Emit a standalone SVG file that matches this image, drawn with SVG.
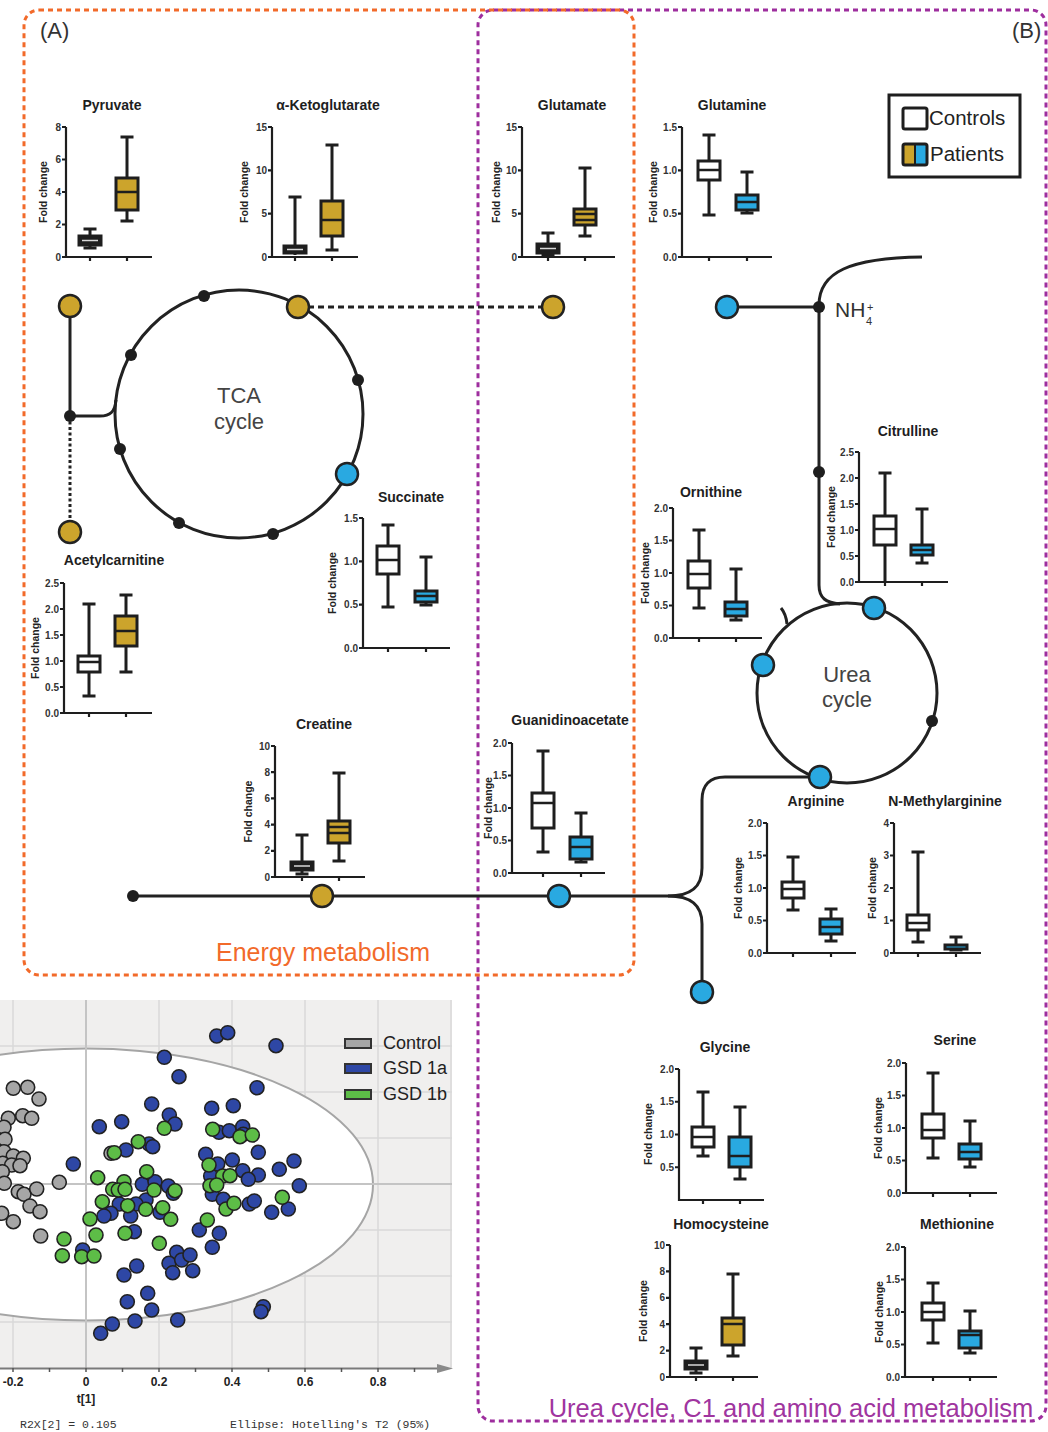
<svg xmlns="http://www.w3.org/2000/svg" width="1048" height="1432" viewBox="0 0 1048 1432">
<style>
  text { font-family: "Liberation Sans", Arial, sans-serif; }
  .ttl { font-size: 14px; font-weight: bold; text-anchor: middle; fill: #1e1e1e; }
  .yl { font-size: 10.5px; font-weight: bold; text-anchor: middle; fill: #222; }
  .tk text { font-size: 10px; font-weight: bold; text-anchor: end; fill: #333; }
  .ax { fill: none; stroke: #1e1e1e; stroke-width: 2.2; }
  .wh { fill: none; stroke: #1e1e1e; stroke-width: 3; }
  .bw { fill: #fff; stroke: #1e1e1e; stroke-width: 3; }
  .bd { fill: #1e1e1e; stroke: #1e1e1e; stroke-width: 3; }
  .bg { fill: #CCA42C; stroke: #1e1e1e; stroke-width: 3; }
  .bb { fill: #29A9E1; stroke: #1e1e1e; stroke-width: 3; }
  .md { stroke: #1e1e1e; stroke-width: 2.5; }
  .mw { stroke: #d8d8d8; stroke-width: 1.5; }
  .ln { fill: none; stroke: #222; stroke-width: 3; }
  .ng { fill: #CCA42C; stroke: #222; stroke-width: 2.5; }
  .nb { fill: #29A9E1; stroke: #222; stroke-width: 2.5; }
  .dot { fill: #1e1e1e; }
  .big { font-size: 22px; fill: #444; text-anchor: middle; }
  .sc circle { stroke: #222; stroke-width: 1.6; }
  .pg { fill: #A6A6A6; }
  .pb { fill: #2E47A5; }
  .pv { fill: #5DBD47; }
  .grid { stroke: #D9D9D9; stroke-width: 1.5; }
  .sxt { font-size: 12px; font-weight: bold; text-anchor: middle; fill: #222; }
  .mono { font-family: "Liberation Mono", "Courier New", monospace; font-size: 11.5px; fill: #333; }
</style>

<!-- scatter plot (score plot) -->
<g id="score-plot">
  <rect x="0" y="1000" width="452" height="368" fill="#F0EFEE"/>
  <g class="grid">
    <path d="M13 1000V1368M159 1000V1368M232 1000V1368M305 1000V1368M378 1000V1368M451 1000V1368"/>
    <path d="M0 1046H452M0 1092H452M0 1138H452M0 1230H452M0 1276H452M0 1322H452"/>
  </g>
  <ellipse cx="86" cy="1184.5" rx="287" ry="136" fill="#fff" stroke="#A5A5A5" stroke-width="2"/>
  <path d="M86 1000V1368M0 1184H452" stroke="#C4C4C4" stroke-width="2"/>
  <g class="sc">
    <circle class="pg" cx="13.3" cy="1088.3" r="7"/>
    <circle class="pg" cx="27.7" cy="1087.3" r="7"/>
    <circle class="pg" cx="39" cy="1099" r="7"/>
    <circle class="pg" cx="8.3" cy="1118.3" r="7"/>
    <circle class="pg" cx="22.7" cy="1115.7" r="7"/>
    <circle class="pg" cx="31.7" cy="1118.3" r="7"/>
    <circle class="pg" cx="4" cy="1127.3" r="7"/>
    <circle class="pg" cx="5" cy="1139.3" r="7"/>
    <circle class="pg" cx="4" cy="1151.7" r="7"/>
    <circle class="pg" cx="13.3" cy="1156" r="7"/>
    <circle class="pg" cx="23.3" cy="1158.3" r="7"/>
    <circle class="pg" cx="2.7" cy="1163.3" r="7"/>
    <circle class="pg" cx="11.7" cy="1165" r="7"/>
    <circle class="pg" cx="20" cy="1165.7" r="7"/>
    <circle class="pg" cx="2.3" cy="1171.7" r="7"/>
    <circle class="pg" cx="4.3" cy="1183.3" r="7"/>
    <circle class="pg" cx="18.3" cy="1191.7" r="7"/>
    <circle class="pg" cx="24" cy="1194.3" r="7"/>
    <circle class="pg" cx="36.7" cy="1189" r="7"/>
    <circle class="pg" cx="30" cy="1206" r="7"/>
    <circle class="pg" cx="40" cy="1211.7" r="7"/>
    <circle class="pg" cx="1.7" cy="1213.3" r="7"/>
    <circle class="pg" cx="13.3" cy="1221.7" r="7"/>
    <circle class="pg" cx="40.7" cy="1236" r="7"/>
    <circle class="pg" cx="59.3" cy="1182.3" r="7"/>
    <circle class="pg" cx="111" cy="1153.3" r="7"/>

    <circle class="pb" cx="216.7" cy="1036" r="7"/>
    <circle class="pb" cx="227.7" cy="1032.7" r="7"/>
    <circle class="pb" cx="276" cy="1045.7" r="7"/>
    <circle class="pb" cx="164.3" cy="1057.3" r="7"/>
    <circle class="pb" cx="179" cy="1076.7" r="7"/>
    <circle class="pb" cx="257" cy="1087.7" r="7"/>
    <circle class="pb" cx="151.7" cy="1104" r="7"/>
    <circle class="pb" cx="169.3" cy="1115" r="7"/>
    <circle class="pb" cx="175" cy="1124" r="7"/>
    <circle class="pb" cx="121.7" cy="1121.7" r="7"/>
    <circle class="pb" cx="99.3" cy="1126.7" r="7"/>
    <circle class="pb" cx="211.7" cy="1108.3" r="7"/>
    <circle class="pb" cx="233.3" cy="1105.7" r="7"/>
    <circle class="pb" cx="126" cy="1150" r="7"/>
    <circle class="pb" cx="149" cy="1144" r="7"/>
    <circle class="pb" cx="152.7" cy="1146.7" r="7"/>
    <circle class="pb" cx="73.3" cy="1164" r="7"/>
    <circle class="pb" cx="205.7" cy="1154.3" r="7"/>
    <circle class="pb" cx="217.7" cy="1164" r="7"/>
    <circle class="pb" cx="232.3" cy="1160" r="7"/>
    <circle class="pb" cx="242.7" cy="1170.7" r="7"/>
    <circle class="pb" cx="258.3" cy="1152.3" r="7"/>
    <circle class="pb" cx="279.3" cy="1169.3" r="7"/>
    <circle class="pb" cx="294" cy="1161" r="7"/>
    <circle class="pb" cx="299.3" cy="1185.7" r="7"/>
    <circle class="pb" cx="219" cy="1132.3" r="7"/>
    <circle class="pb" cx="229.3" cy="1130.7" r="7"/>
    <circle class="pb" cx="242.7" cy="1126.7" r="7"/>
    <circle class="pb" cx="243.3" cy="1134.3" r="7"/>
    <circle class="pb" cx="258.3" cy="1175" r="7"/>
    <circle class="pb" cx="248.3" cy="1179.3" r="7"/>
    <circle class="pb" cx="210.7" cy="1176" r="7"/>
    <circle class="pb" cx="212.3" cy="1194.3" r="7"/>
    <circle class="pb" cx="223.3" cy="1199.3" r="7"/>
    <circle class="pb" cx="249.3" cy="1204" r="7"/>
    <circle class="pb" cx="254.3" cy="1201" r="7"/>
    <circle class="pb" cx="271.7" cy="1212.3" r="7"/>
    <circle class="pb" cx="288.3" cy="1209" r="7"/>
    <circle class="pb" cx="142.3" cy="1184.3" r="7"/>
    <circle class="pb" cx="155" cy="1181.7" r="7"/>
    <circle class="pb" cx="168.3" cy="1186" r="7"/>
    <circle class="pb" cx="173.3" cy="1193.3" r="7"/>
    <circle class="pb" cx="146" cy="1200" r="7"/>
    <circle class="pb" cx="136" cy="1204" r="7"/>
    <circle class="pb" cx="119.3" cy="1204" r="7"/>
    <circle class="pb" cx="111" cy="1213.3" r="7"/>
    <circle class="pb" cx="104" cy="1216" r="7"/>
    <circle class="pb" cx="130.7" cy="1216" r="7"/>
    <circle class="pb" cx="160" cy="1212.3" r="7"/>
    <circle class="pb" cx="134.3" cy="1231.7" r="7"/>
    <circle class="pb" cx="199.3" cy="1230" r="7"/>
    <circle class="pb" cx="219.3" cy="1233.3" r="7"/>
    <circle class="pb" cx="212.3" cy="1247.3" r="7"/>
    <circle class="pb" cx="82.7" cy="1250" r="7"/>
    <circle class="pb" cx="176.7" cy="1252.3" r="7"/>
    <circle class="pb" cx="169" cy="1263.3" r="7"/>
    <circle class="pb" cx="181.7" cy="1260" r="7"/>
    <circle class="pb" cx="190" cy="1255" r="7"/>
    <circle class="pb" cx="192.7" cy="1270.7" r="7"/>
    <circle class="pb" cx="172.7" cy="1272.7" r="7"/>
    <circle class="pb" cx="136.7" cy="1266" r="7"/>
    <circle class="pb" cx="124" cy="1275" r="7"/>
    <circle class="pb" cx="147.7" cy="1293.3" r="7"/>
    <circle class="pb" cx="127.3" cy="1301.7" r="7"/>
    <circle class="pb" cx="151.7" cy="1310" r="7"/>
    <circle class="pb" cx="135" cy="1321" r="7"/>
    <circle class="pb" cx="177.7" cy="1320" r="7"/>
    <circle class="pb" cx="112.3" cy="1324" r="7"/>
    <circle class="pb" cx="100.7" cy="1333.3" r="7"/>
    <circle class="pb" cx="263.3" cy="1306.7" r="7"/>
    <circle class="pb" cx="261" cy="1311.7" r="7"/>

    <circle class="pv" cx="164.3" cy="1128.3" r="7"/>
    <circle class="pv" cx="138.3" cy="1141.7" r="7"/>
    <circle class="pv" cx="114.3" cy="1152.7" r="7"/>
    <circle class="pv" cx="97.7" cy="1177.7" r="7"/>
    <circle class="pv" cx="146.7" cy="1171.7" r="7"/>
    <circle class="pv" cx="124" cy="1181.7" r="7"/>
    <circle class="pv" cx="112.7" cy="1189.3" r="7"/>
    <circle class="pv" cx="118.3" cy="1190" r="7"/>
    <circle class="pv" cx="125" cy="1189.3" r="7"/>
    <circle class="pv" cx="154" cy="1190" r="7"/>
    <circle class="pv" cx="175" cy="1190.7" r="7"/>
    <circle class="pv" cx="102.3" cy="1201.7" r="7"/>
    <circle class="pv" cx="127.7" cy="1205.7" r="7"/>
    <circle class="pv" cx="145.7" cy="1209.3" r="7"/>
    <circle class="pv" cx="162.7" cy="1207.7" r="7"/>
    <circle class="pv" cx="90" cy="1219" r="7"/>
    <circle class="pv" cx="170.7" cy="1219.3" r="7"/>
    <circle class="pv" cx="96" cy="1235" r="7"/>
    <circle class="pv" cx="125" cy="1233.3" r="7"/>
    <circle class="pv" cx="159.3" cy="1243.3" r="7"/>
    <circle class="pv" cx="64" cy="1239" r="7"/>
    <circle class="pv" cx="62.3" cy="1255.7" r="7"/>
    <circle class="pv" cx="81.7" cy="1256.7" r="7"/>
    <circle class="pv" cx="94" cy="1256" r="7"/>
    <circle class="pv" cx="207.3" cy="1220" r="7"/>
    <circle class="pv" cx="226" cy="1209" r="7"/>
    <circle class="pv" cx="234" cy="1203.3" r="7"/>
    <circle class="pv" cx="212.7" cy="1129.3" r="7"/>
    <circle class="pv" cx="240" cy="1136.7" r="7"/>
    <circle class="pv" cx="252.3" cy="1135" r="7"/>
    <circle class="pv" cx="209" cy="1165" r="7"/>
    <circle class="pv" cx="222.7" cy="1176" r="7"/>
    <circle class="pv" cx="230" cy="1175.7" r="7"/>
    <circle class="pv" cx="210" cy="1185.7" r="7"/>
    <circle class="pv" cx="216.7" cy="1185" r="7"/>
    <circle class="pv" cx="282.3" cy="1197.3" r="7"/>
  </g>
  <!-- legend -->
  <rect x="345" y="1039" width="26" height="9" fill="#A6A6A6" stroke="#333" stroke-width="2"/>
  <rect x="345" y="1064" width="26" height="9" fill="#2E47A5" stroke="#333" stroke-width="2"/>
  <rect x="345" y="1090" width="26" height="9" fill="#5DBD47" stroke="#333" stroke-width="2"/>
  <g font-size="18" fill="#222">
    <text x="383" y="1049">Control</text>
    <text x="383" y="1074">GSD 1a</text>
    <text x="383" y="1100">GSD 1b</text>
  </g>
  <!-- t[1] axis -->
  <path d="M0 1368.5H440" stroke="#7A7A7A" stroke-width="2"/>
  <polygon points="437,1364 453,1368.5 437,1373" fill="#8A8A8A"/>
  <path d="M13 1368v4M49.5 1368v4M86 1368v4M122.5 1368v4M159 1368v4M195.5 1368v4M232 1368v4M268.5 1368v4M305 1368v4M341.5 1368v4M378 1368v4M414.5 1368v4" stroke="#555" stroke-width="1.5"/>
  <text class="sxt" x="13" y="1386">-0.2</text>
  <text class="sxt" x="86" y="1386">0</text>
  <text class="sxt" x="159" y="1386">0.2</text>
  <text class="sxt" x="232" y="1386">0.4</text>
  <text class="sxt" x="305" y="1386">0.6</text>
  <text class="sxt" x="378" y="1386">0.8</text>
  <text class="sxt" x="86" y="1403" font-size="13">t[1]</text>
  <text class="mono" x="20" y="1428">R2X[2] = 0.105</text>
  <text class="mono" x="230" y="1428">Ellipse: Hotelling's T2 (95%)</text>
</g>

<!-- section frames -->
<g id="frames" fill="none" stroke-width="3" stroke-dasharray="5 4">
  <rect x="478" y="10" width="568" height="1411" rx="15" stroke="#9E2E9E"/>
  <rect x="24" y="10" width="610" height="965" rx="15" stroke="#F26A2A"/>
</g>
<text x="40" y="38" font-size="22" fill="#333">(A)</text>
<text x="1012" y="38" font-size="22" fill="#333">(B)</text>
<text x="323" y="961" font-size="25" fill="#F26A2A" text-anchor="middle">Energy metabolism</text>
<text x="791" y="1417" font-size="25.5" fill="#A0359F" text-anchor="middle">Urea cycle, C1 and amino acid metabolism</text>

<!-- pathway connectors -->
<g id="connectors">
  <circle class="ln" cx="239" cy="414" r="124"/>
  <circle class="ln" cx="847" cy="693" r="90"/>
  <path class="ln" d="M70 306V416H100C110 416 115 412 116 400"/>
  <path class="ln" d="M70 416V522" stroke-dasharray="3 2.5"/>
  <path class="ln" d="M298 307H553" stroke-dasharray="6 4"/>
  <path class="ln" d="M727 307H819"/>
  <path class="ln" d="M922 257C850 258 819 272 819 305V585C819 598 826 603 840 604"/>
  <path class="ln" d="M787 624Q786 614 781 608"/>
  <path class="ln" d="M133 896H668"/>
  <path class="ln" d="M820 777H725C710 777 702 785 702 800V868C702 888 690 896 668 896"/>
  <path class="ln" d="M668 896C690 896 702 904 702 924V992"/>
  <text class="big" x="239" y="403">TCA</text>
  <text class="big" x="239" y="429">cycle</text>
  <text class="big" x="847" y="682" font-size="21">Urea</text>
  <text class="big" x="847" y="707" font-size="21">cycle</text>
  <text x="835" y="317" font-size="21" fill="#333">NH</text>
  <text x="866" y="325" font-size="11" fill="#333">4</text>
  <text x="867" y="311" font-size="11" fill="#333">+</text>
</g>

<!-- pathway nodes -->
<g id="tca-junctions">
  <circle class="dot" cx="204" cy="296" r="6"/>
  <circle class="dot" cx="131" cy="355" r="6"/>
  <circle class="dot" cx="358" cy="380" r="6"/>
  <circle class="dot" cx="120" cy="449" r="6"/>
  <circle class="dot" cx="179" cy="523" r="6"/>
  <circle class="dot" cx="273" cy="534" r="6"/>
  <circle class="dot" cx="70" cy="416" r="6"/>
  <circle class="dot" cx="133" cy="896" r="6"/>
  <circle class="dot" cx="819" cy="307" r="6"/>
  <circle class="dot" cx="819" cy="472" r="6"/>
  <circle class="dot" cx="932" cy="721" r="6"/>
</g>
<g id="node-pyruvate"><circle class="ng" cx="70" cy="306" r="11"/></g>
<g id="node-acetylcarnitine"><circle class="ng" cx="70" cy="532" r="11"/></g>
<g id="node-akg"><circle class="ng" cx="298" cy="307" r="11"/></g>
<g id="node-succinate"><circle class="nb" cx="347" cy="474" r="11"/></g>
<g id="node-glutamate"><circle class="ng" cx="553" cy="307" r="11"/></g>
<g id="node-glutamine"><circle class="nb" cx="727" cy="307" r="11"/></g>
<g id="node-citrulline"><circle class="nb" cx="874" cy="608" r="11"/></g>
<g id="node-ornithine"><circle class="nb" cx="763" cy="665" r="11"/></g>
<g id="node-arginine"><circle class="nb" cx="820" cy="777" r="11"/></g>
<g id="node-creatine"><circle class="ng" cx="322" cy="896" r="11"/></g>
<g id="node-guanidinoacetate"><circle class="nb" cx="559" cy="896" r="11"/></g>
<g id="node-methylarginine"><circle class="nb" cx="702" cy="992" r="11"/></g>

<!-- legend -->
<g id="legend">
  <rect x="889" y="95" width="131" height="82" fill="#fff" stroke="#1e1e1e" stroke-width="3"/>
  <rect x="903" y="108" width="24" height="21" rx="2" fill="#fff" stroke="#1e1e1e" stroke-width="3"/>
  <rect x="903" y="144" width="12" height="21" fill="#CCA42C"/>
  <rect x="915" y="144" width="12" height="21" fill="#29A9E1"/>
  <rect x="903" y="144" width="24" height="21" rx="2" fill="none" stroke="#1e1e1e" stroke-width="3"/>
  <path d="M915 144V165" stroke="#1e1e1e" stroke-width="2"/>
  <text x="929" y="125" font-size="20.5" fill="#222">Controls</text>
  <text x="930" y="161" font-size="20.5" fill="#222">Patients</text>
</g>

<!-- box plots -->
<g id="chart-pyruvate">
  <text class="ttl" x="112" y="110">Pyruvate</text>
  <text class="yl" transform="rotate(-90 43 192)" x="43" y="195.5">Fold change</text>
  <path class="ax" d="M66 127V257H152M62 127h4M62 159.5h4M62 192h4M62 224.5h4M62 257h4M90 257v4M127 257v4"/>
  <g class="tk"><text x="61" y="260.5">0</text><text x="61" y="228">2</text><text x="61" y="195.5">4</text><text x="61" y="163">6</text><text x="61" y="130.5">8</text></g>
  <path class="wh" d="M90 229V248M83.5 229h13M83.5 248h13"/>
  <rect class="bd" x="79" y="236" width="22" height="9"/><path class="mw" d="M82 240.5h16"/>
  <path class="wh" d="M127 137V221M120.5 137h13M120.5 221h13"/>
  <rect class="bg" x="116" y="178" width="22" height="32"/><path class="md" d="M116 192h22"/>
</g>

<g id="chart-ketoglutarate">
  <text class="ttl" x="328" y="110">α-Ketoglutarate</text>
  <text class="yl" transform="rotate(-90 244 192)" x="244" y="195.5">Fold change</text>
  <path class="ax" d="M272 127V257H358M268 127h4M268 170.3h4M268 213.7h4M268 257h4M295 257v4M332 257v4"/>
  <g class="tk"><text x="267" y="260.5">0</text><text x="267" y="217.2">5</text><text x="267" y="173.8">10</text><text x="267" y="130.5">15</text></g>
  <path class="wh" d="M295 197V255M288.5 197h13"/>
  <rect class="bd" x="284" y="246" width="22" height="7"/><path class="mw" d="M287 249.5h16"/>
  <path class="wh" d="M332 145V250M325.5 145h13M325.5 250h13"/>
  <rect class="bg" x="321" y="201" width="22" height="35"/><path class="md" d="M321 220h22"/>
</g>

<g id="chart-glutamate">
  <text class="ttl" x="572" y="110">Glutamate</text>
  <text class="yl" transform="rotate(-90 496 192)" x="496" y="195.5">Fold change</text>
  <path class="ax" d="M522 127V257H615M518 127h4M518 170.3h4M518 213.7h4M518 257h4M548 257v4M585 257v4"/>
  <g class="tk"><text x="517" y="260.5">0</text><text x="517" y="217.2">5</text><text x="517" y="173.8">10</text><text x="517" y="130.5">15</text></g>
  <path class="wh" d="M548 233V255M541.5 233h13M541.5 255h13"/>
  <rect class="bd" x="537" y="244" width="22" height="9"/><path class="mw" d="M540 248.5h16"/>
  <path class="wh" d="M585 168V236M578.5 168h13M578.5 236h13"/>
  <rect class="bg" x="574" y="209" width="22" height="16"/><path class="md" d="M574 214h22M574 220h22" stroke-width="2"/>
</g>

<g id="chart-glutamine">
  <text class="ttl" x="732" y="110">Glutamine</text>
  <text class="yl" transform="rotate(-90 653 192)" x="653" y="195.5">Fold change</text>
  <path class="ax" d="M682 127V257H772M678 127h4M678 170.3h4M678 213.7h4M678 257h4M709 257v4M747 257v4"/>
  <g class="tk"><text x="677" y="260.5">0.0</text><text x="677" y="217.2">0.5</text><text x="677" y="173.8">1.0</text><text x="677" y="130.5">1.5</text></g>
  <path class="wh" d="M709 135V215M702.5 135h13M702.5 215h13"/>
  <rect class="bw" x="698" y="161" width="22" height="19"/><path class="md" d="M698 170h22"/>
  <path class="wh" d="M747 172V213M740.5 172h13M740.5 213h13"/>
  <rect class="bb" x="736" y="195" width="22" height="15"/><path class="md" d="M736 202h22"/>
</g>

<g id="chart-succinate">
  <text class="ttl" x="411" y="502">Succinate</text>
  <text class="yl" transform="rotate(-90 332 583)" x="332" y="586.5">Fold change</text>
  <path class="ax" d="M363 518V648H450M359 518h4M359 561.3h4M359 604.7h4M359 648h4M388 648v4M426 648v4"/>
  <g class="tk"><text x="358" y="651.5">0.0</text><text x="358" y="608.2">0.5</text><text x="358" y="564.8">1.0</text><text x="358" y="521.5">1.5</text></g>
  <path class="wh" d="M388 525V607M381.5 525h13M381.5 607h13"/>
  <rect class="bw" x="377" y="546" width="22" height="28"/><path class="md" d="M377 560h22"/>
  <path class="wh" d="M426 557V605M419.5 557h13M419.5 605h13"/>
  <rect class="bb" x="415" y="591" width="22" height="11"/><path class="md" d="M415 596h22"/>
</g>

<g id="chart-acetylcarnitine">
  <text class="ttl" x="114" y="565">Acetylcarnitine</text>
  <text class="yl" transform="rotate(-90 35 648)" x="35" y="651.5">Fold change</text>
  <path class="ax" d="M64 583V713H152M60 583h4M60 609h4M60 635h4M60 661h4M60 687h4M60 713h4M89 713v4M126 713v4"/>
  <g class="tk"><text x="59" y="716.5">0.0</text><text x="59" y="690.5">0.5</text><text x="59" y="664.5">1.0</text><text x="59" y="638.5">1.5</text><text x="59" y="612.5">2.0</text><text x="59" y="586.5">2.5</text></g>
  <path class="wh" d="M89 604V696M82.5 604h13M82.5 696h13"/>
  <rect class="bw" x="78" y="656" width="22" height="16"/><path class="md" d="M78 662h22"/>
  <path class="wh" d="M126 595V672M119.5 595h13M119.5 672h13"/>
  <rect class="bg" x="115" y="616" width="22" height="30"/><path class="md" d="M115 631h22"/>
</g>

<g id="chart-creatine">
  <text class="ttl" x="324" y="729">Creatine</text>
  <text class="yl" transform="rotate(-90 248 811.5)" x="248" y="815">Fold change</text>
  <path class="ax" d="M275 746V877H365M271 746h4M271 772.2h4M271 798.4h4M271 824.6h4M271 850.8h4M271 877h4M302 877v4M339 877v4"/>
  <g class="tk"><text x="270" y="880.5">0</text><text x="270" y="854.3">2</text><text x="270" y="828.1">4</text><text x="270" y="801.9">6</text><text x="270" y="775.7">8</text><text x="270" y="749.5">10</text></g>
  <path class="wh" d="M302 835V874M295.5 835h13M295.5 874h13"/>
  <rect class="bd" x="291" y="862" width="22" height="8"/><path class="mw" d="M294 866h16"/>
  <path class="wh" d="M339 773V861M332.5 773h13M332.5 861h13"/>
  <rect class="bg" x="328" y="821" width="22" height="22"/><path class="md" d="M328 827h22M328 833h22" stroke-width="2"/>
</g>

<g id="chart-guanidinoacetate">
  <text class="ttl" x="570" y="725">Guanidinoacetate</text>
  <text class="yl" transform="rotate(-90 488 808)" x="488" y="811.5">Fold change</text>
  <path class="ax" d="M512 743V873H605M508 743h4M508 775.5h4M508 808h4M508 840.5h4M508 873h4M543 873v4M581 873v4"/>
  <g class="tk"><text x="507" y="876.5">0.0</text><text x="507" y="844">0.5</text><text x="507" y="811.5">1.0</text><text x="507" y="779">1.5</text><text x="507" y="746.5">2.0</text></g>
  <path class="wh" d="M543 751V852M536.5 751h13M536.5 852h13"/>
  <rect class="bw" x="532" y="793" width="22" height="35"/><path class="md" d="M532 803h22"/>
  <path class="wh" d="M581 813V862M574.5 813h13M574.5 862h13"/>
  <rect class="bb" x="570" y="837" width="22" height="22"/><path class="md" d="M570 847h22"/>
</g>

<g id="chart-ornithine">
  <text class="ttl" x="711" y="497">Ornithine</text>
  <text class="yl" transform="rotate(-90 645 573)" x="645" y="576.5">Fold change</text>
  <path class="ax" d="M673 508V638H762M669 508h4M669 540.5h4M669 573h4M669 605.5h4M669 638h4M699 638v4M736 638v4"/>
  <g class="tk"><text x="668" y="641.5">0.0</text><text x="668" y="609">0.5</text><text x="668" y="576.5">1.0</text><text x="668" y="544">1.5</text><text x="668" y="511.5">2.0</text></g>
  <path class="wh" d="M699 530V608M692.5 530h13M692.5 608h13"/>
  <rect class="bw" x="688" y="561" width="22" height="27"/><path class="md" d="M688 574h22"/>
  <path class="wh" d="M736 569V620M729.5 569h13M729.5 620h13"/>
  <rect class="bb" x="725" y="602" width="22" height="14"/><path class="md" d="M725 609h22"/>
</g>

<g id="chart-citrulline">
  <text class="ttl" x="908" y="436">Citrulline</text>
  <text class="yl" transform="rotate(-90 831 517)" x="831" y="520.5">Fold change</text>
  <path class="ax" d="M859 452V582H948M855 452h4M855 478h4M855 504h4M855 530h4M855 556h4M855 582h4M885 582v4M922 582v4"/>
  <g class="tk"><text x="854" y="585.5">0.0</text><text x="854" y="559.5">0.5</text><text x="854" y="533.5">1.0</text><text x="854" y="507.5">1.5</text><text x="854" y="481.5">2.0</text><text x="854" y="455.5">2.5</text></g>
  <path class="wh" d="M885 473V582M878.5 473h13"/>
  <rect class="bw" x="874" y="516" width="22" height="29"/><path class="md" d="M874 529h22"/>
  <path class="wh" d="M922 509V563M915.5 509h13M915.5 563h13"/>
  <rect class="bb" x="911" y="545" width="22" height="10"/><path class="md" d="M911 550h22"/>
</g>

<g id="chart-arginine">
  <text class="ttl" x="816" y="806">Arginine</text>
  <text class="yl" transform="rotate(-90 738 888)" x="738" y="891.5">Fold change</text>
  <path class="ax" d="M767 823V953H856M763 823h4M763 855.5h4M763 888h4M763 920.5h4M763 953h4M793 953v4M831 953v4"/>
  <g class="tk"><text x="762" y="956.5">0.0</text><text x="762" y="924">0.5</text><text x="762" y="891.5">1.0</text><text x="762" y="859">1.5</text><text x="762" y="826.5">2.0</text></g>
  <path class="wh" d="M793 857V910M786.5 857h13M786.5 910h13"/>
  <rect class="bw" x="782" y="882" width="22" height="16"/><path class="md" d="M782 889h22"/>
  <path class="wh" d="M831 909V941M824.5 909h13M824.5 941h13"/>
  <rect class="bb" x="820" y="919" width="22" height="15"/><path class="md" d="M820 927h22"/>
</g>

<g id="chart-methylarginine">
  <text class="ttl" x="945" y="806">N-Methylarginine</text>
  <text class="yl" transform="rotate(-90 872 888)" x="872" y="891.5">Fold change</text>
  <path class="ax" d="M894 823V953H981M890 823h4M890 855.5h4M890 888h4M890 920.5h4M890 953h4M918 953v4M956 953v4"/>
  <g class="tk"><text x="889" y="956.5">0</text><text x="889" y="924">1</text><text x="889" y="891.5">2</text><text x="889" y="859">3</text><text x="889" y="826.5">4</text></g>
  <path class="wh" d="M918 852V942M911.5 852h13M911.5 942h13"/>
  <rect class="bw" x="907" y="915" width="22" height="15"/><path class="md" d="M907 923h22"/>
  <path class="wh" d="M956 937V950M949.5 937h13M949.5 950h13"/>
  <rect class="bb" x="945" y="945" width="22" height="4"/>
</g>

<g id="chart-glycine">
  <text class="ttl" x="725" y="1052">Glycine</text>
  <text class="yl" transform="rotate(-90 648 1134)" x="648" y="1137.5">Fold change</text>
  <path class="ax" d="M679 1069V1200H764M675 1069h4M675 1101.75h4M675 1134.5h4M675 1167.25h4M703 1200v4M740 1200v4"/>
  <g class="tk"><text x="674" y="1170.75">0.5</text><text x="674" y="1138">1.0</text><text x="674" y="1105.25">1.5</text><text x="674" y="1072.5">2.0</text></g>
  <path class="wh" d="M703 1092V1156M696.5 1092h13M696.5 1156h13"/>
  <rect class="bw" x="692" y="1127" width="22" height="20"/><path class="md" d="M692 1137h22"/>
  <path class="wh" d="M740 1107V1179M733.5 1107h13M733.5 1179h13"/>
  <rect class="bb" x="729" y="1137" width="22" height="30"/><path class="md" d="M729 1156h22"/>
</g>

<g id="chart-serine">
  <text class="ttl" x="955" y="1045">Serine</text>
  <text class="yl" transform="rotate(-90 878 1128)" x="878" y="1131.5">Fold change</text>
  <path class="ax" d="M906 1063V1193H997M902 1063h4M902 1095.5h4M902 1128h4M902 1160.5h4M902 1193h4M933 1193v4M970 1193v4"/>
  <g class="tk"><text x="901" y="1196.5">0.0</text><text x="901" y="1164">0.5</text><text x="901" y="1131.5">1.0</text><text x="901" y="1099">1.5</text><text x="901" y="1066.5">2.0</text></g>
  <path class="wh" d="M933 1073V1158M926.5 1073h13M926.5 1158h13"/>
  <rect class="bw" x="922" y="1114" width="22" height="24"/><path class="md" d="M922 1130h22"/>
  <path class="wh" d="M970 1121V1167M963.5 1121h13M963.5 1167h13"/>
  <rect class="bb" x="959" y="1144" width="22" height="15"/><path class="md" d="M959 1152h22"/>
</g>

<g id="chart-homocysteine">
  <text class="ttl" x="721" y="1229">Homocysteine</text>
  <text class="yl" transform="rotate(-90 643 1311)" x="643" y="1314.5">Fold change</text>
  <path class="ax" d="M670 1245V1377H758M666 1245h4M666 1271.4h4M666 1297.8h4M666 1324.2h4M666 1350.6h4M666 1377h4M696 1377v4M733 1377v4"/>
  <g class="tk"><text x="665" y="1380.5">0</text><text x="665" y="1354.1">2</text><text x="665" y="1327.7">4</text><text x="665" y="1301.3">6</text><text x="665" y="1274.9">8</text><text x="665" y="1248.5">10</text></g>
  <path class="wh" d="M696 1348V1373M689.5 1348h13M689.5 1373h13"/>
  <rect class="bd" x="685" y="1361" width="22" height="8"/><path class="mw" d="M688 1365h16"/>
  <path class="wh" d="M733 1274V1356M726.5 1274h13M726.5 1356h13"/>
  <rect class="bg" x="722" y="1318" width="22" height="27"/><path class="md" d="M722 1324h22"/>
</g>

<g id="chart-methionine">
  <text class="ttl" x="957" y="1229">Methionine</text>
  <text class="yl" transform="rotate(-90 879 1312)" x="879" y="1315.5">Fold change</text>
  <path class="ax" d="M905 1247V1377H997M901 1247h4M901 1279.5h4M901 1312h4M901 1344.5h4M901 1377h4M933 1377v4M970 1377v4"/>
  <g class="tk"><text x="900" y="1380.5">0.0</text><text x="900" y="1348">0.5</text><text x="900" y="1315.5">1.0</text><text x="900" y="1283">1.5</text><text x="900" y="1250.5">2.0</text></g>
  <path class="wh" d="M933 1283V1343M926.5 1283h13M926.5 1343h13"/>
  <rect class="bw" x="922" y="1303" width="22" height="17"/><path class="md" d="M922 1312h22"/>
  <path class="wh" d="M970 1311V1353M963.5 1311h13M963.5 1353h13"/>
  <rect class="bb" x="959" y="1331" width="22" height="17"/><path class="md" d="M959 1335h22"/>
</g>
</svg>
